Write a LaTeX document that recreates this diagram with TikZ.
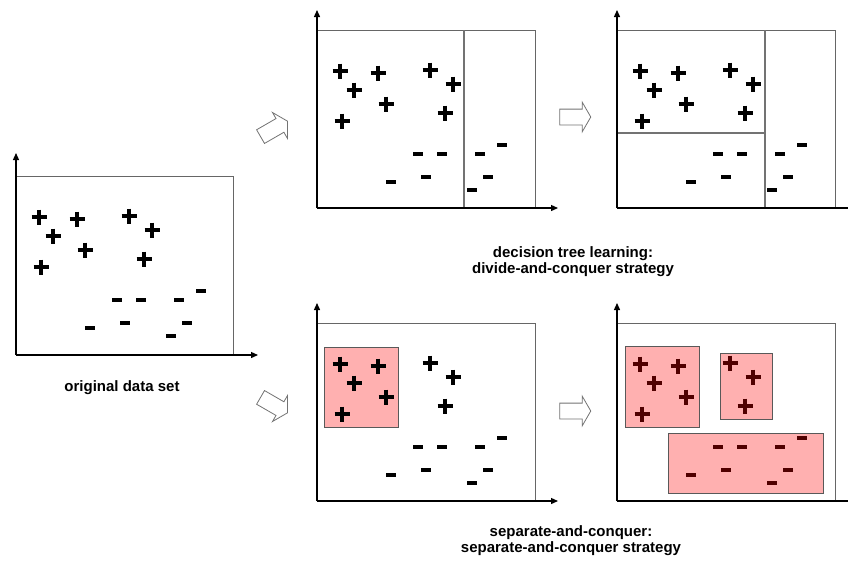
\documentclass[tikz,border=0pt]{standalone}
\usepackage{fontspec}
\setmainfont{Liberation Sans}
\usetikzlibrary{arrows.meta,shapes.arrows}

\definecolor{pinkfill}{RGB}{255,176,176}
\definecolor{darkred}{RGB}{80,0,0}

\tikzset{
  frame/.style={draw=black!60, line width=1pt},
  axis/.style={line width=1.3pt, -{Triangle[length=7pt,width=6pt]}},
  split/.style={draw=black!55, line width=1.2pt},
  rulebox/.style={draw=black!65, fill=pinkfill, line width=1pt},
  flow/.style={single arrow, draw=black!55, fill=white, line width=0.8pt,
    minimum height=31pt, inner xsep=0pt, inner ysep=7.5pt,
    single arrow head extend=7pt, single arrow tip angle=120},
  caption/.style={font=\bfseries\fontsize{15}{16}\selectfont, align=center, inner sep=0pt},
  pics/pmark/.style={code={\draw[line width=3.4pt,#1] (-7.5,0)--(7.5,0) (0,-7.5)--(0,7.5);}},
  pics/pmark/.default=black,
  pics/mmark/.style={code={\draw[line width=3.4pt,#1] (-5,0)--(5,0);}},
  pics/mmark/.default=black,
}

% positive and negative examples, relative to the top-left corner of a frame
\newcommand\posexamples[1]{%
  \foreach \px/\py in {23/41,37/60,61/43,69/74,25/91,113/40,136/54,128/83}
    \pic at (\px,\py) {pmark=#1};}
\newcommand\negexamples[1]{%
  \foreach \px/\py in {101/124,125/124,163/124,185/115,74/152,109/147,171/147,155/160}
    \pic at (\px,\py) {mmark=#1};}

\begin{document}
\begin{tikzpicture}[x=1pt,y=-1pt]
\useasboundingbox (0,0) rectangle (848,568);

% original data set
\begin{scope}[shift={(16,176)}]
  \draw[frame] (0,0) rectangle (217,179);
  \posexamples{black}
  \negexamples{black}
  \coordinate (o1) at (0,179);
  \coordinate (y1) at (0,-23);
  \coordinate (x1) at (242,179);
  \draw[axis] (o1) -- (y1);
  \draw[axis] (o1) -- (x1);
\end{scope}
\node[caption] (lorig) at (122,388) {original data set};

% divide-and-conquer, first split
\begin{scope}[shift={(317,30)}]
  \draw[frame] (0,0) rectangle (218,178);
  \coordinate (s2a) at (147,0);
  \coordinate (s2b) at (147,178);
  \draw[split] (s2a) -- (s2b);
  \posexamples{black}
  \negexamples{black}
  \coordinate (o2) at (0,178);
  \coordinate (y2) at (0,-20);
  \coordinate (x2) at (241,178);
  \draw[axis] (o2) -- (y2);
  \draw[axis] (o2) -- (x2);
\end{scope}

% divide-and-conquer, second split
\begin{scope}[shift={(617,30)}]
  \draw[frame] (0,0) rectangle (218,178);
  \coordinate (s3a) at (148,0);
  \coordinate (s3b) at (148,178);
  \coordinate (s3c) at (0,103);
  \coordinate (s3d) at (148,103);
  \draw[split] (s3a) -- (s3b);
  \draw[split] (s3c) -- (s3d);
  \posexamples{black}
  \negexamples{black}
  \coordinate (o3) at (0,178);
  \coordinate (y3) at (0,-20);
  \coordinate (x3) at (241,178);
  \draw[axis] (o3) -- (y3);
  \draw[axis] (o3) -- (x3);
\end{scope}
\node[caption] (ldiv) at (573,262) {decision tree learning:\\divide-and-conquer strategy};

% separate-and-conquer, first rule
\begin{scope}[shift={(317,323)}]
  \draw[frame] (0,0) rectangle (218,178);
  \draw[rulebox] (7,24) rectangle (81,104);
  \posexamples{black}
  \negexamples{black}
  \coordinate (o4) at (0,178);
  \coordinate (y4) at (0,-20);
  \coordinate (x4) at (241,178);
  \draw[axis] (o4) -- (y4);
  \draw[axis] (o4) -- (x4);
\end{scope}

% separate-and-conquer, all rules
\begin{scope}[shift={(617,323)}]
  \draw[frame] (0,0) rectangle (218,178);
  \draw[rulebox] (8,23) rectangle (82,104);
  \draw[rulebox] (103,30) rectangle (155,96);
  \draw[rulebox] (51,110) rectangle (206,170);
  \posexamples{darkred}
  \negexamples{darkred}
  \coordinate (o5) at (0,178);
  \coordinate (y5) at (0,-20);
  \coordinate (x5) at (241,178);
  \draw[axis] (o5) -- (y5);
  \draw[axis] (o5) -- (x5);
\end{scope}
\node[caption] (lsep) at (571,541) {separate-and-conquer:\\separate-and-conquer strategy};

% transitions between the stages
\node[flow, rotate=30] (t1) at (272,130) {};
\node[flow, rotate=-30] (t2) at (272,404) {};
\node[flow] (t3) at (573,117) {};
\node[flow] (t4) at (573,411) {};
\end{tikzpicture}
\end{document}
